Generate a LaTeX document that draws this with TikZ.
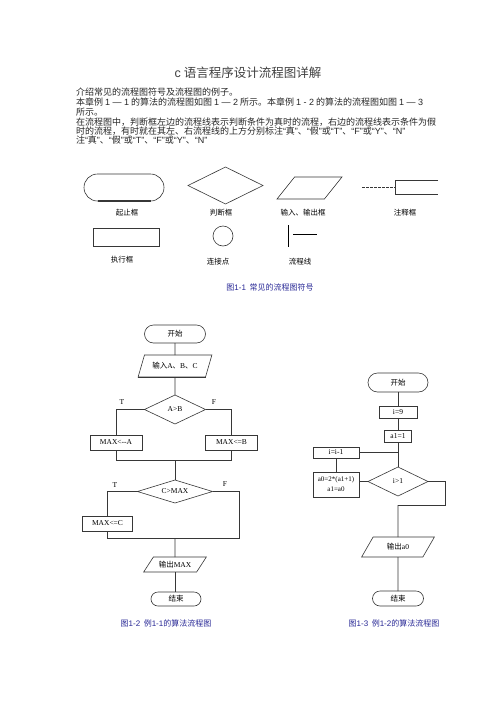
\documentclass[tikz,border=0pt]{standalone}
\usepackage{fontspec}
\setmainfont{Noto Sans CJK SC}
\newfontfamily\tms{Liberation Serif}
\newfontfamily\lat{Liberation Sans}
\usetikzlibrary{shapes.geometric}
\definecolor{capblue}{RGB}{40,40,150}
\definecolor{ln}{RGB}{55,55,55}
\newcommand\qa{{\lat“}}
\newcommand\qb{{\lat”}}
\begin{document}
\begin{tikzpicture}[x=1pt,y=-1pt,
  every node/.style={inner sep=0pt,outer sep=0pt},
  shp/.style={draw=ln,line width=0.6pt},
  conn/.style={draw=ln,line width=0.6pt},
  procbox/.style={shp,rectangle},
  dec/.style={shp,diamond},
  iobox/.style={shp,trapezium,trapezium stretches=true,inner sep=1pt},
  body/.style={anchor=west,font=\fontsize{9}{10}\selectfont,text=black!85},
  symlab/.style={font=\fontsize{7.5}{8}\selectfont,text=black},
  flabel/.style={font=\fontsize{7.5}{8}\selectfont,text=black},
  tf/.style={font=\tms\fontsize{7.5}{8}\selectfont,text=black},
  captext/.style={font=\fontsize{8}{9}\selectfont,text=capblue}
]
\useasboundingbox[fill=white] (0,0) rectangle (496,702);

% ---------- title and text ----------
\node[font=\fontsize{12.5}{14}\selectfont,text=black!75] (title) at (248,73) {{\lat c} 语言程序设计流程图详解};
\node[body] (l1) at (76,92) {介绍常见的流程图符号及流程图的例子。};
\node[body] (l2) at (76,102) {本章例 {\lat 1 — 1} 的算法的流程图如图 {\lat 1 — 2} 所示。本章例 {\lat 1 - 2} 的算法的流程图如图 {\lat 1 — 3}};
\node[body] (l3) at (76,112) {所示。};
\node[body] (l4) at (76,122) {在流程图中，判断框左边的流程线表示判断条件为真时的流程，右边的流程线表示条件为假};
\node[body] (l5) at (76,131) {时的流程，有时就在其左、右流程线的上方分别标注\qa 真\qb 、\qa 假\qb 或\qa{\lat T}\qb 、\qa{\lat F}\qb 或\qa{\lat Y}\qb 、\qa{\lat N}\qb};
\node[body] (l6) at (76,140) {注\qa 真\qb 、\qa 假\qb 或\qa{\lat T}\qb 、\qa{\lat F}\qb 或\qa{\lat Y}\qb 、\qa{\lat N}\qb};

% ---------- figure 1-1 symbols ----------
\node[procbox,minimum width=80pt,minimum height=27pt,rounded corners=13.5pt] (t0) at (124,187.5) {};
\draw[ln,line width=1.1pt] ([xshift=13.5pt]t0.south west) -- ([xshift=-13.5pt]t0.south east);
\node[symlab] (t0l) at (127,213) {起止框};
\node[dec,minimum width=75pt,minimum height=37pt] (d0) at (225.5,185.5) {};
\node[symlab] (d0l) at (221,213) {判断框};
\node[iobox,trapezium left angle=61,trapezium right angle=119,minimum width=65pt,minimum height=22pt] (io0) at (309.5,188) {\phantom{x}};
\node[symlab] (io0l) at (303,213) {输入、输出框};
\node[minimum width=43pt,minimum height=14pt] (ann) at (416.5,187) {};
\coordinate (annL) at (362,187);
\draw[conn] (ann.north east) -- (ann.north west) -- (ann.south west) -- (ann.south east);
\draw[conn,dashed,dash pattern=on 2.5pt off 1.5pt] (annL) -- (ann.west);
\node[symlab] (annl) at (405,213) {注释框};
\node[procbox,minimum width=66pt,minimum height=18pt] (p0) at (126,237) {};
\node[symlab] (p0l) at (122,260) {执行框};
\node[shp,circle,minimum size=20pt] (c0) at (223,236) {};
\node[symlab] (c0l) at (218,262) {连接点};
\coordinate (fa) at (288,225); \coordinate (fb) at (288,247);
\coordinate (fc) at (293,234); \coordinate (fd) at (317,234);
\draw[black,line width=0.9pt] (fa) -- (fb);
\draw[black,line width=0.8pt] (fc) -- (fd);
\node[symlab] (fll) at (300,262) {流程线};
\node[captext] (cap1) at (270,287) {图{\lat 1-1}\ \ 常见的流程图符号};

% ---------- figure 1-2 ----------
\node[procbox,minimum width=61pt,minimum height=18pt,rounded corners=9pt] (s1) at (175,334) {};
\node[flabel] at (s1) {开始};
\node[iobox,flabel,trapezium left angle=61,trapezium right angle=119,minimum width=74pt,minimum height=22pt] (in1) at (175,366) {输入{\tms A}、{\tms B}、{\tms C}};
\draw[ln,line width=1pt] (in1.bottom left corner) -- (in1.bottom right corner);
\node[dec,minimum width=61pt,minimum height=29pt] (d1) at (175,409.5) {};
\node[tf] at (d1) {A>B};
\node[tf] (t1) at (122,402) {T};
\node[tf] (f1) at (214,402) {F};
\node[procbox,minimum width=52pt,minimum height=15pt] (pA) at (116,442.5) {};
\node[tf] at (pA) {MAX<--A};
\node[procbox,minimum width=52pt,minimum height=15pt] (pB) at (231.5,442.5) {};
\node[tf] at (pB) {MAX<=B};
\coordinate (j1) at (175,460);
\node[dec,minimum width=75pt,minimum height=23pt] (d2) at (175,491.5) {};
\node[tf] at (d2) {C>MAX};
\node[tf] (t2) at (115,485) {T};
\node[tf] (f2) at (225,484) {F};
\node[procbox,line width=1pt,minimum width=50pt,minimum height=15pt] (pC) at (107.5,523.5) {};
\node[tf] at (pC) {MAX<=C};
\coordinate (j2) at (175,538);
\coordinate (r2) at (239,538);
\node[iobox,flabel,trapezium left angle=49,trapezium right angle=131,minimum width=63pt,minimum height=15pt] (out1) at (175,564.5) {输出{\tms MAX}};
\node[procbox,minimum width=50pt,minimum height=14pt,rounded corners=7pt] (e1) at (176,599) {};
\node[flabel] at (e1) {结束};
\node[captext] (cap2) at (166,623) {图{\lat 1-2}\ \ 例{\lat 1-1}的算法流程图};

\draw[conn] (s1.south) -- (in1.north);
\draw[conn] (in1.south) -- (d1.north);
\draw[conn] (d1.west) -| (pA.north);
\draw[conn] (d1.east) -| (pB.north);
\draw[conn] (pA.south) |- (j1);
\draw[conn] (pB.south) |- (j1);
\draw[conn] (j1) -- (d2.north);
\draw[conn] (d2.west) -| (pC.north);
\draw[conn] (pC.south) |- (j2);
\draw[conn] (d2.east) -| (r2) -- (j2);
\draw[conn] (j2) -- (out1.north);
\draw[conn] (out1.south) -- (out1.south |- e1.north);

% ---------- figure 1-3 ----------
\node[procbox,minimum width=60pt,minimum height=19pt,rounded corners=9.5pt] (s2) at (398,382.5) {};
\node[flabel] at (s2) {开始};
\node[procbox,minimum width=38pt,minimum height=12pt] (b1) at (398,412) {};
\node[tf] at (b1) {i=9};
\node[procbox,minimum width=27pt,minimum height=12pt] (b2) at (398,436) {};
\node[tf] at (b2) {a1=1};
\node[procbox,minimum width=46pt,minimum height=11pt] (b3) at (336,452.5) {};
\node[tf] at (b3) {i=i-1};
\node[procbox,line width=1pt,minimum width=46pt,minimum height=25pt,align=center,font=\tms\fontsize{7}{10}\selectfont] (b4) at (336,484.5) {a0=2*(a1+1)\\a1=a0};
\node[dec,minimum width=60pt,minimum height=29pt] (d3) at (398,481.5) {};
\node[tf] at (d3) {i>1};
\coordinate (r3) at (445,505);
\coordinate (j3) at (398,505);
\node[iobox,flabel,trapezium left angle=58,trapezium right angle=122,minimum width=73pt,minimum height=20pt] (out2) at (398,547) {输出{\tms a0}};
\node[procbox,minimum width=51pt,minimum height=15pt,rounded corners=7.5pt] (e2) at (398,598.5) {};
\node[flabel] at (e2) {结束};
\node[captext] (cap3) at (394,623) {图{\lat 1-3}\ \ 例{\lat 1-2}的算法流程图};

\draw[conn] (s2.south) -- (b1.north);
\draw[conn] (b1.south) -- (b2.north);
\draw[conn] (b2.south) -- (d3.north);
\draw[conn] (b3.east) -- (b3.east -| b2.south);
\draw[conn] (b4.north) -- (b3.south);
\draw[conn] (d3.west) -- (d3.west -| b4.east);
\draw[conn] (d3.east) -| (r3) -- (j3);
\draw[conn] (j3) -- (out2.north);
\draw[conn] (out2.south) -- (e2.north);
\end{tikzpicture}
\end{document}
